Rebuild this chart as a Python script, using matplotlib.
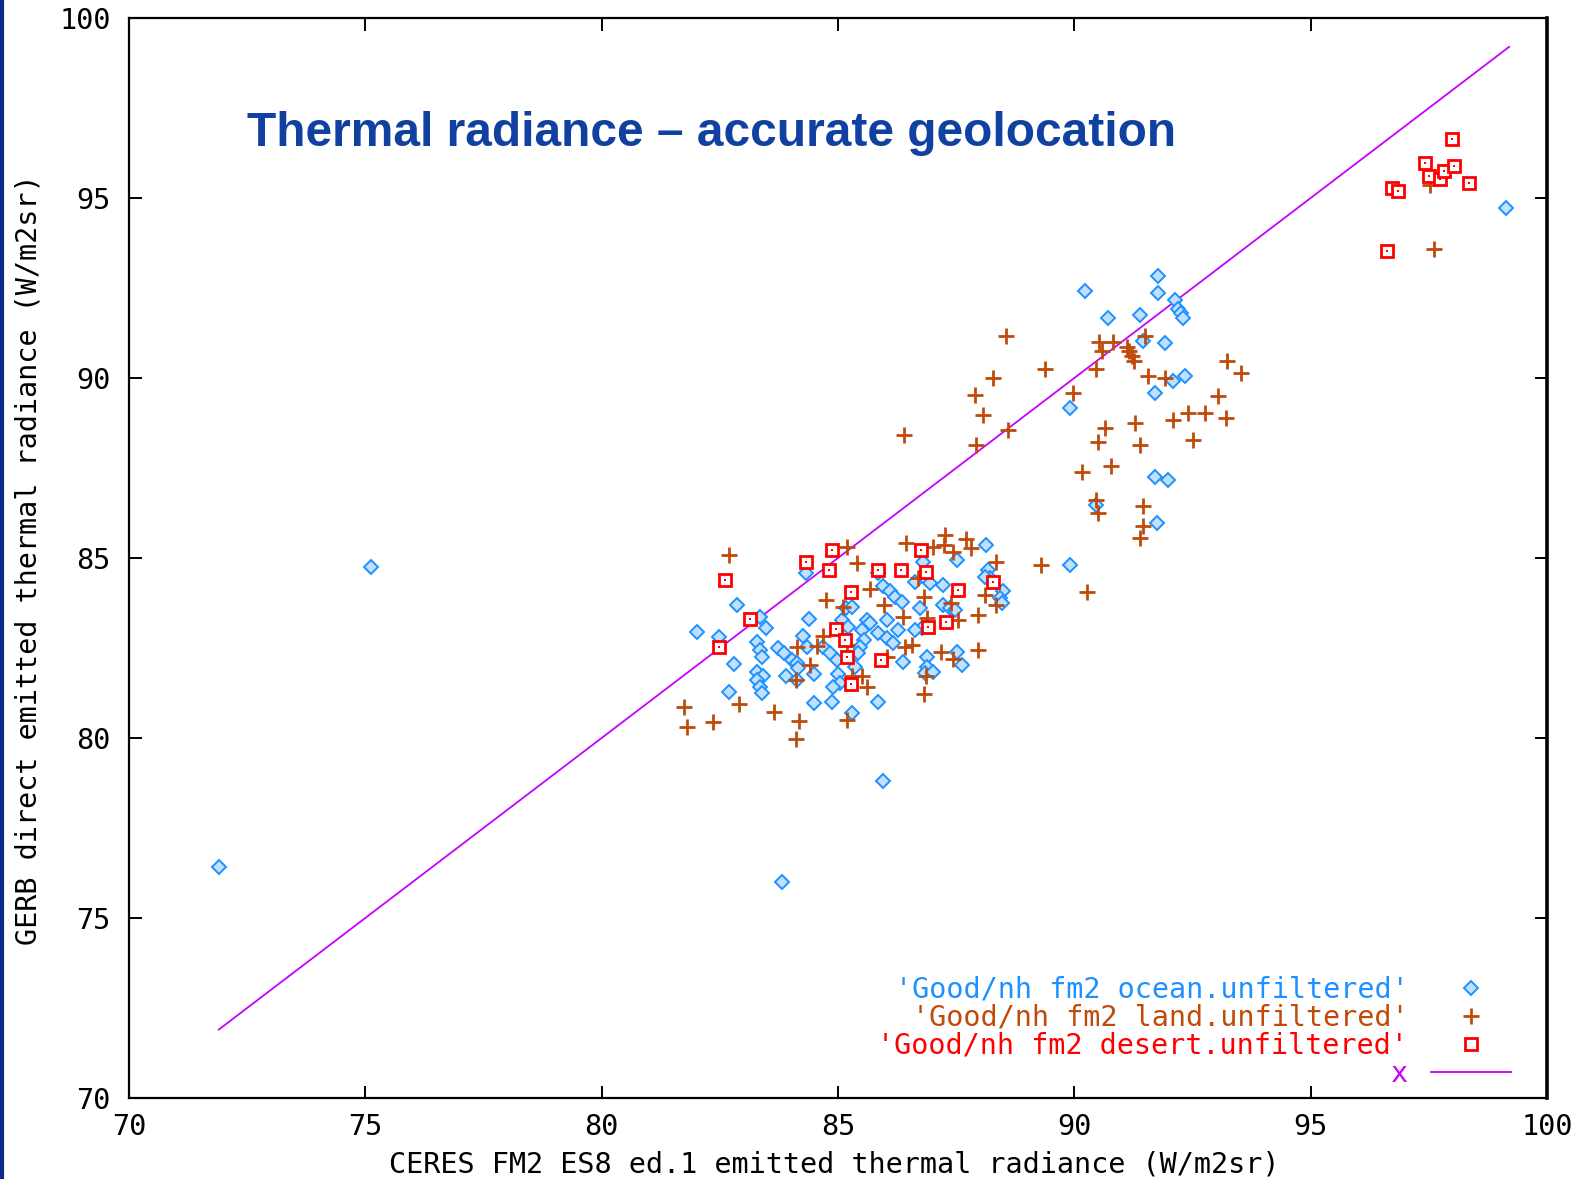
import matplotlib.pyplot as plt
import numpy as np

# GERB vs CERES emitted thermal radiance (W/m2sr)

# ocean scenes
ocean_x = [71.90, 75.12, 83.82, 85.96, 99.14,
           90.23, 91.77, 91.77, 90.72, 91.39, 92.13, 92.20, 92.26, 92.30, 91.45,
           91.92, 92.09, 92.35, 91.71, 89.91, 91.71, 91.98, 90.45, 91.75, 89.91,
           84.32, 82.86, 82.01, 82.49, 83.35, 83.48, 83.28, 83.35, 83.39, 82.80,
           83.28, 83.42, 83.28, 83.35, 82.70, 83.39, 83.73, 83.86, 84.02, 84.13,
           84.16, 84.27, 84.34, 84.39, 83.91, 84.13, 84.49, 84.49, 84.87, 85.01,
           85.04, 84.90, 84.69, 84.83, 84.97, 85.08, 85.22, 85.18, 85.29, 85.36,
           85.29, 85.50, 85.61, 85.68, 85.55, 85.47, 85.43, 85.85, 85.85, 86.03,
           86.17, 85.96, 86.10, 86.21, 86.35, 86.03, 86.28, 86.38, 85.85, 86.80,
           86.63, 86.95, 87.23, 86.74, 86.77, 86.63, 86.88, 86.88, 86.84, 87.02,
           87.23, 87.37, 87.48, 87.51, 87.51, 87.62, 88.13, 88.18, 88.22, 88.11,
           88.50, 88.43, 88.46]
ocean_y = [76.43, 84.75, 76.01, 78.80, 94.72,
           92.42, 92.84, 92.36, 91.66, 91.74, 92.16, 91.91, 91.80, 91.66, 91.04,
           90.96, 89.92, 90.06, 89.59, 89.17, 87.24, 87.18, 86.48, 85.98, 84.80,
           84.58, 83.70, 82.94, 82.80, 83.37, 83.05, 82.68, 82.45, 82.26, 82.05,
           81.84, 81.71, 81.61, 81.43, 81.29, 81.24, 82.50, 82.37, 82.17, 82.08,
           81.94, 82.82, 82.54, 83.30, 81.71, 81.61, 81.78, 80.97, 81.01, 81.78,
           81.52, 81.43, 82.54, 82.36, 82.17, 83.28, 83.09, 83.61, 83.65, 81.98,
           80.69, 83.00, 83.28, 83.19, 82.72, 82.54, 82.36, 81.01, 82.91, 82.77,
           82.63, 84.21, 84.07, 83.93, 83.79, 83.28, 83.00, 82.12, 84.58, 84.90,
           84.34, 84.30, 84.25, 83.61, 83.05, 83.00, 82.26, 81.98, 81.80, 81.84,
           83.70, 83.61, 83.56, 84.95, 82.40, 82.03, 85.36, 84.66, 84.44, 84.48,
           84.07, 83.88, 83.74]

# land scenes
land_x = [90.53, 90.81, 90.58, 91.11, 91.15, 91.22, 91.26, 91.49, 89.38, 90.45,
          89.98, 91.56, 91.92, 93.24, 93.52, 93.03, 93.20, 90.66, 91.28, 92.09,
          92.41, 92.77, 92.52, 90.51, 91.39, 90.77, 90.17, 90.45, 90.51, 91.45,
          91.45, 91.39, 86.40, 88.55, 87.89, 88.29, 88.06, 87.91, 88.59, 90.26,
          89.30, 97.61, 97.53,
          82.70, 85.20, 85.40, 84.74, 85.11, 85.68, 85.98, 86.44, 87.02, 87.27,
          87.24, 87.44, 87.71, 87.81, 88.35, 86.81, 86.38, 86.88, 87.39, 87.55,
          87.97, 88.11, 88.35, 84.69, 84.55, 84.13, 84.41, 84.11, 85.19, 86.41,
          86.56, 87.18, 87.44, 87.97, 86.03, 85.29, 85.50, 85.61, 85.19, 86.86,
          86.81, 81.74, 81.80, 82.35, 82.91, 83.65, 84.18, 84.11, 86.70]
land_y = [90.99, 90.99, 90.74, 90.85, 90.74, 90.60, 90.46, 91.18, 90.26, 90.26,
          89.59, 90.06, 90.01, 90.48, 90.15, 89.50, 88.89, 88.61, 88.75, 88.83,
          89.03, 89.03, 88.27, 88.22, 88.13, 87.57, 87.38, 86.62, 86.26, 86.45,
          85.89, 85.56, 88.41, 91.18, 89.53, 90.01, 88.97, 88.13, 88.55, 84.05,
          84.80, 93.59, 95.36,
          85.09, 85.32, 84.87, 83.84, 83.63, 84.13, 83.70, 85.43, 85.30, 85.64,
          85.36, 85.16, 85.52, 85.27, 84.90, 83.91, 83.36, 83.33, 83.74, 83.28,
          83.42, 83.97, 83.70, 82.82, 82.56, 82.54, 82.03, 81.61, 82.58, 82.54,
          82.59, 82.38, 82.19, 82.45, 82.26, 81.71, 81.71, 81.43, 80.50, 81.71,
          81.22, 80.87, 80.30, 80.45, 80.94, 80.72, 80.46, 79.97, 84.45]

# desert scenes
desert_x = [82.60, 84.32, 84.87, 84.81, 83.13, 82.49, 85.28, 84.96, 85.14, 85.19,
            85.28, 85.91, 85.85, 86.33, 86.76, 86.86, 87.55, 87.28, 86.91, 88.28,
            97.99, 97.41, 97.51, 97.73, 97.83, 98.04, 98.35, 96.72, 96.84, 96.61]
desert_y = [84.39, 84.88, 85.22, 84.67, 83.30, 82.54, 84.05, 83.02, 82.73, 82.26,
            81.50, 82.17, 84.67, 84.67, 85.22, 84.61, 84.11, 83.22, 83.09, 84.33,
            96.64, 95.97, 95.61, 95.52, 95.75, 95.89, 95.41, 95.27, 95.20, 93.53]

# 1:1 line over the data range
line_x = [71.9, 99.2]

c_ocean = '#1e90ff'
c_land = '#c04a0a'
c_desert = '#ff0000'
c_line = '#c400ff'

mono = 'DejaVu Sans Mono'
fs = 20.5

fig = plt.figure(figsize=(15.8, 11.79), dpi=100)
ax = fig.add_axes([0.0816, 0.0687, 0.8975, 0.916])

ax.plot(ocean_x, ocean_y, 'D', ms=6.8, mfc='#bfe0ff', mec=c_ocean, mew=1.4,
        ls='none', label="'Good/nh fm2 ocean.unfiltered'", zorder=3)
ax.plot(land_x, land_y, '+', ms=11, mec=c_land, mew=2.0,
        ls='none', label="'Good/nh fm2 land.unfiltered'", zorder=4)
ax.plot(desert_x, desert_y, 's', ms=9, mfc='white', mec=c_desert, mew=2.0,
        ls='none', label="'Good/nh fm2 desert.unfiltered'", zorder=5)
ax.plot(desert_x, desert_y, 's', ms=2, mfc=c_desert, mec=c_desert, mew=0,
        ls='none', zorder=6)
ax.plot(line_x, line_x, '-', color=c_line, lw=1.3, label='x', zorder=2)

ax.set_xlim(70, 100)
ax.set_ylim(70, 100)
ax.set_xticks(np.arange(70, 101, 5))
ax.set_yticks(np.arange(70, 101, 5))
ax.tick_params(direction='in', length=9, width=1.4, top=True, right=True,
               labelsize=fs)
ax.tick_params(axis='x', pad=11)
ax.tick_params(axis='y', pad=13)
for lab in ax.get_xticklabels() + ax.get_yticklabels():
    lab.set_family(mono)
for side in ['left', 'bottom', 'top']:
    ax.spines[side].set_linewidth(1.6)
ax.spines['right'].set_linewidth(2.6)

leg = ax.legend(loc='lower right', bbox_to_anchor=(0.9825, -0.001), markerfirst=False,
                frameon=False, prop={'family': mono, 'size': fs},
                labelcolor=[c_ocean, c_land, c_desert, c_line],
                handlelength=2.8, handletextpad=0.8, labelspacing=0.0,
                borderaxespad=0.0)

fig.text(0.0178, 0.525, 'GERB direct emitted thermal radiance (W/m2sr)',
         rotation=90, ha='center', va='center', family=mono, fontsize=fs)
fig.text(0.528, 0.0125, 'CERES FM2 ES8 ed.1 emitted thermal radiance (W/m2sr)',
         ha='center', va='center', family=mono, fontsize=fs)

fig.text(247 / 1580, 1 - 134 / 1179, 'Thermal radiance \u2013 accurate geolocation',
         ha='left', va='center', family='Liberation Sans', fontweight='bold',
         fontsize=34.5, color='#1040a0')

# navy strip on the left edge
fig.add_artist(plt.Line2D([0.001, 0.001], [0, 1], transform=fig.transFigure,
                          color='#0c2a8c', lw=3))

fig.savefig('out.png', dpi=100)
